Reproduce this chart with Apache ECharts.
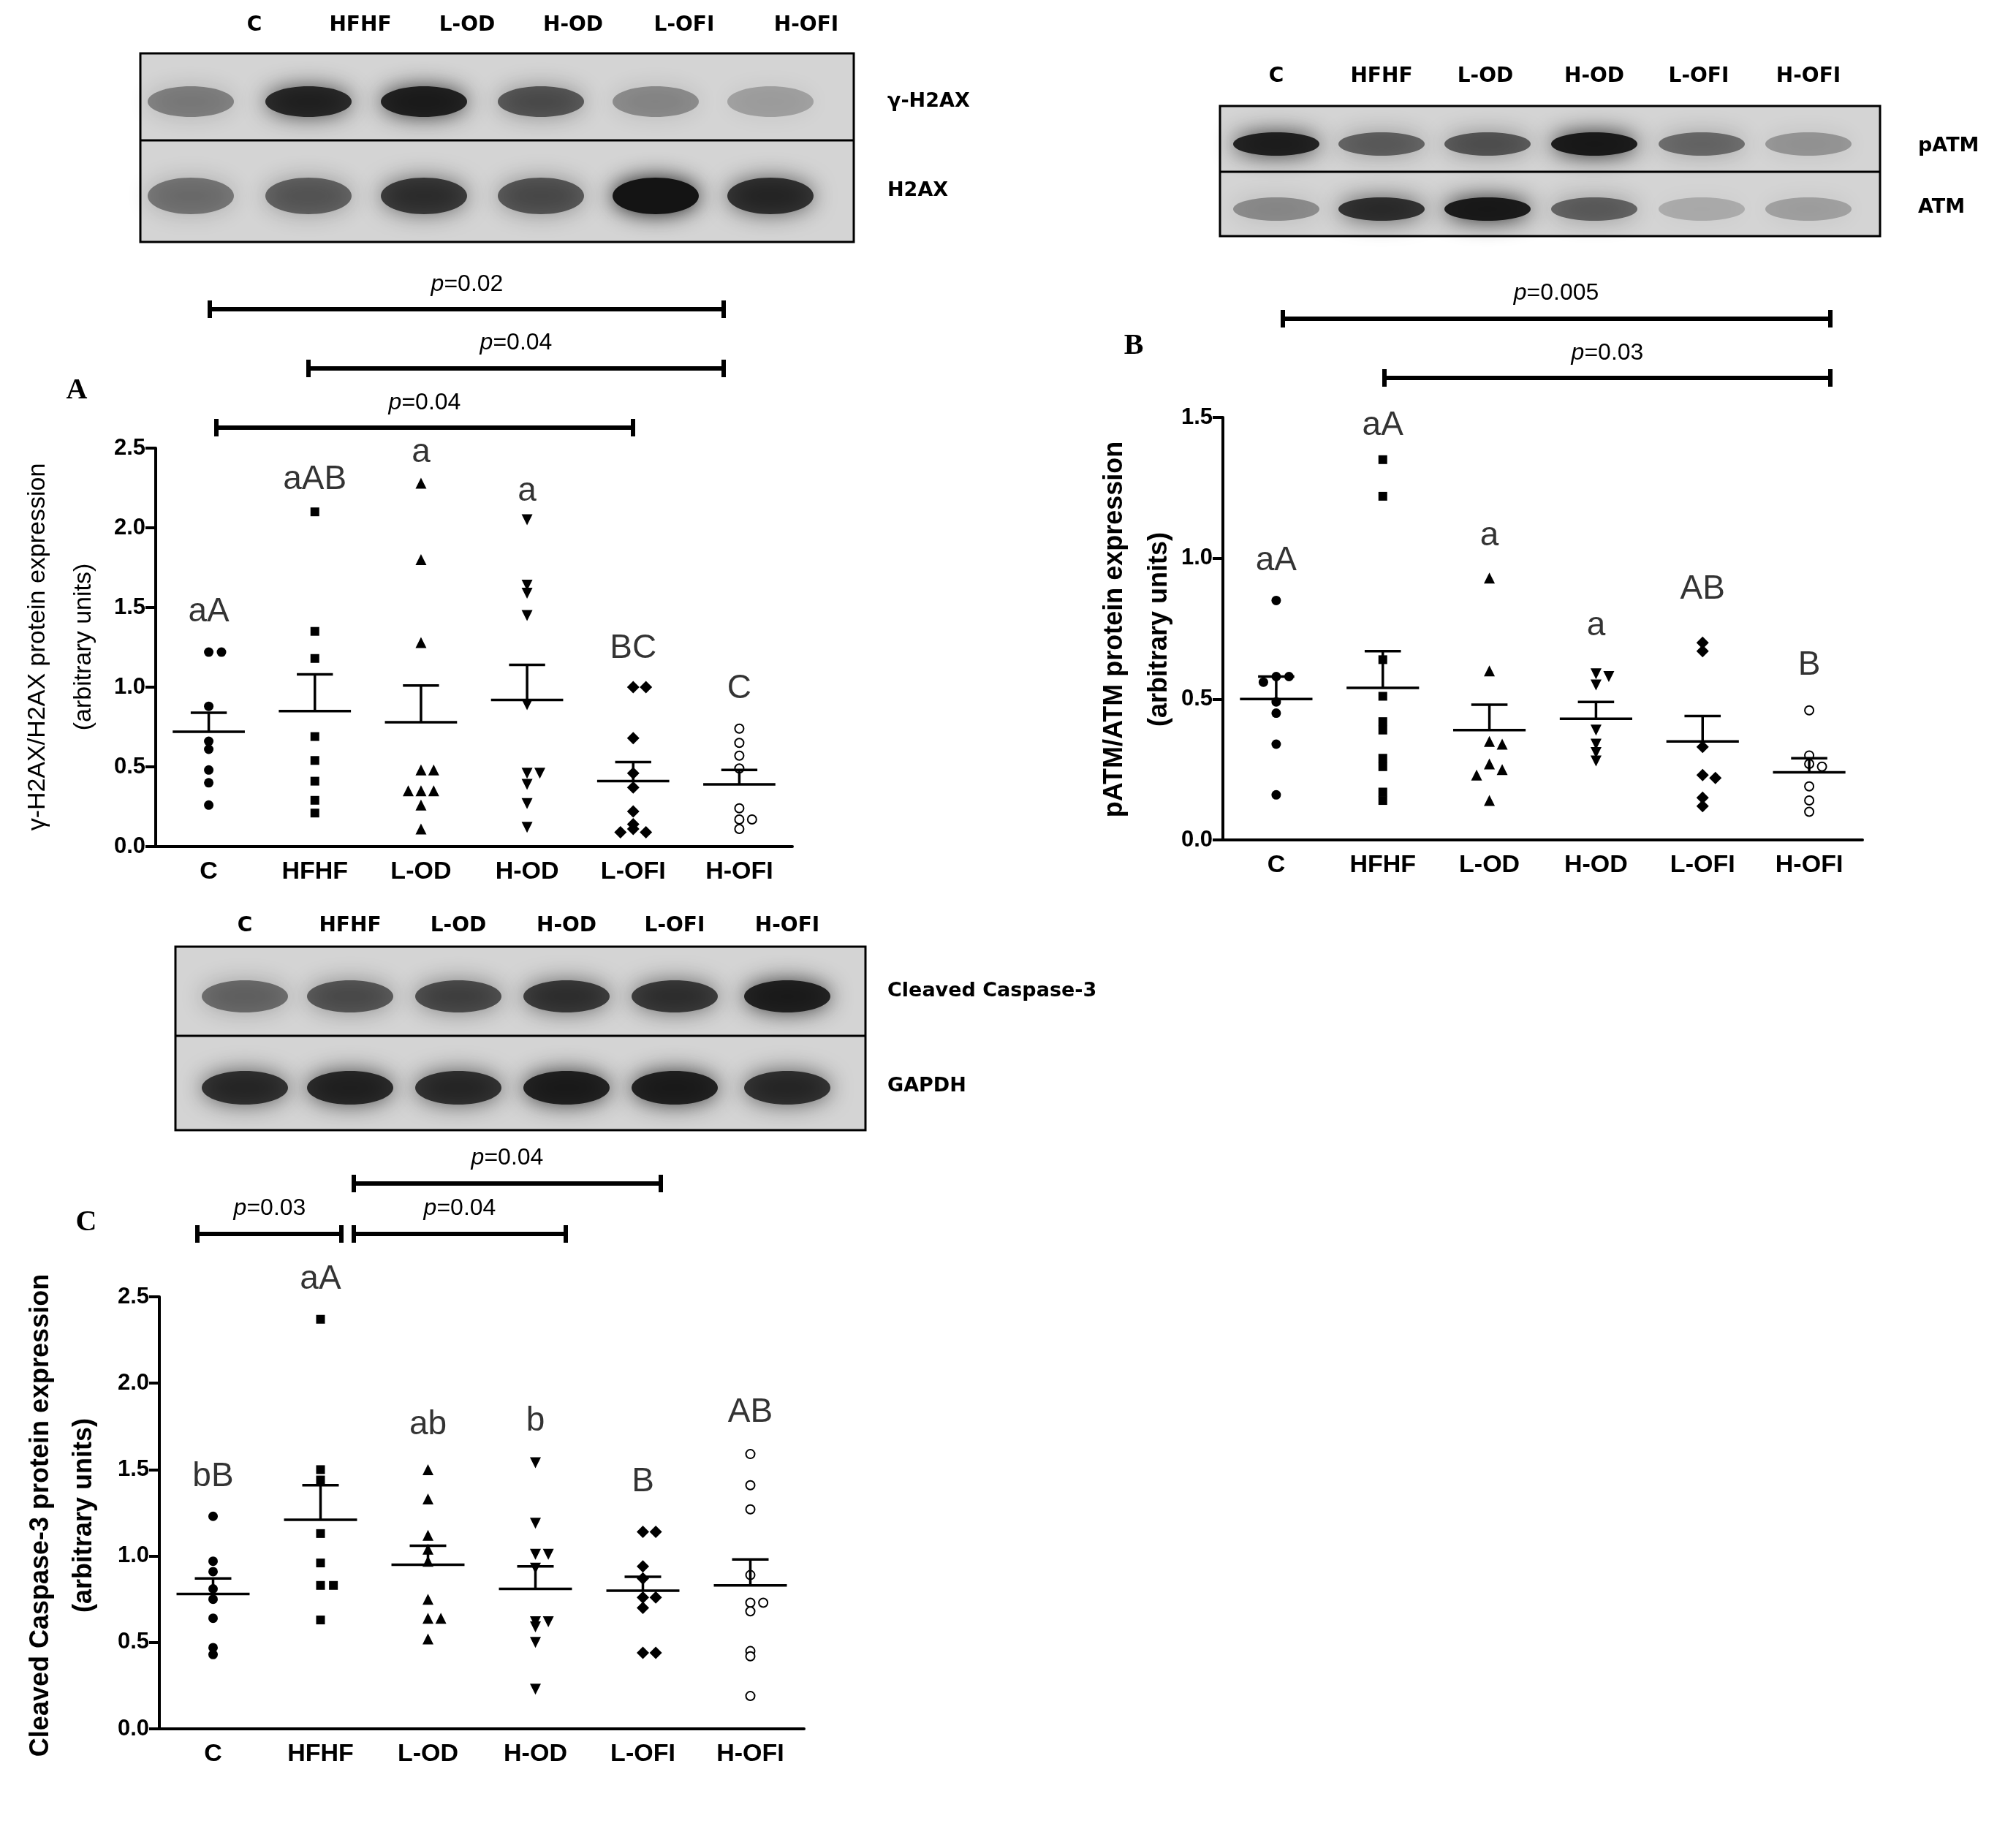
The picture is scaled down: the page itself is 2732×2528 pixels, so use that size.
<!DOCTYPE html>
<html><head><meta charset="utf-8">
<script src="https://cdn.jsdelivr.net/npm/echarts@6/dist/echarts.min.js"></script>
<style>html,body{margin:0;background:#fff}#chart{width:2732px;height:2528px}</style>
</head><body><div id="chart"></div>
<script>
var groups = ['C','HFHF','L-OD','H-OD','L-OFI','H-OFI'];
// panel A: gamma-H2AX/H2AX
var aVals = [
  [1.22,1.22,0.88,0.66,0.61,0.48,0.40,0.26],
  [2.10,1.35,1.18,0.69,0.54,0.41,0.29,0.21],
  [2.28,1.80,1.28,0.48,0.48,0.35,0.35,0.35,0.26,0.11],
  [2.05,1.64,1.59,1.45,0.89,0.46,0.46,0.39,0.27,0.12],
  [1.00,1.00,0.68,0.46,0.37,0.22,0.14,0.11,0.09,0.09],
  [0.74,0.65,0.57,0.49,0.24,0.17,0.17,0.11]];
var aMean = [0.72,0.85,0.78,0.92,0.41,0.39];
var aSem = [0.12,0.23,0.23,0.22,0.12,0.09];
var aLetters = ['aA','aAB','a','a','BC','C'];
var aLetterY = [1.47,2.30,2.47,2.23,1.24,0.99];
// panel B: pATM/ATM
var bVals = [
  [0.85,0.58,0.58,0.56,0.49,0.45,0.34,0.16],
  [1.35,1.22,0.64,0.51,0.42,0.39,0.29,0.26,0.17,0.14],
  [0.93,0.60,0.35,0.34,0.27,0.25,0.23,0.14],
  [0.59,0.58,0.55,0.39,0.34,0.31,0.28],
  [0.70,0.67,0.33,0.23,0.22,0.15,0.12],
  [0.46,0.30,0.27,0.26,0.19,0.14,0.10]];
var bMean = [0.50,0.54,0.39,0.43,0.35,0.24];
var bSem = [0.08,0.13,0.09,0.06,0.09,0.05];
var bLetters = ['aA','aA','a','a','AB','B'];
var bLetterY = [0.99,1.47,1.08,0.76,0.89,0.62];
// panel C: cleaved caspase-3
var cVals = [
  [1.23,0.97,0.91,0.81,0.75,0.64,0.47,0.43],
  [2.37,1.50,1.44,1.13,0.96,0.83,0.83,0.63],
  [1.50,1.33,1.12,1.04,0.97,0.75,0.64,0.64,0.52],
  [1.54,1.19,1.01,1.01,0.93,0.62,0.62,0.59,0.50,0.23],
  [1.14,1.14,0.94,0.87,0.76,0.76,0.70,0.44,0.44],
  [1.59,1.41,1.27,0.89,0.73,0.73,0.68,0.45,0.42,0.19]];
var cMean = [0.78,1.21,0.95,0.81,0.80,0.83];
var cSem = [0.09,0.20,0.11,0.13,0.08,0.15];
var cLetters = ['bB','aA','ab','b','B','AB'];
var cLetterY = [1.46,2.60,1.76,1.78,1.43,1.83];

var K = 2732/1568;
function s(v){ return Math.round(v*K); }
var FONT = 'Liberation Sans';
var symbols = [
  {symbol:'circle', rot:0, fill:'#000', size:13},
  {symbol:'rect', rot:0, fill:'#000', size:12},
  {symbol:'triangle', rot:0, fill:'#000', size:15},
  {symbol:'triangle', rot:180, fill:'#000', size:15},
  {symbol:'diamond', rot:0, fill:'#000', size:17},
  {symbol:'circle', rot:0, fill:'#fff', size:12}];

// spread coincident points sideways like a dot plot
function jitter(vals, step){
  var out = [], prev = null, k = 0;
  vals.forEach(function(v){
    if (prev !== null && Math.abs(v - prev) < step) k++; else k = 0;
    prev = v;
    var off = k === 0 ? 0 : (k % 2 ? 1 : -1) * Math.ceil(k/2) * 0.12;
    out.push(off);
  });
  return out;
}

var grids = [], xAxes = [], yAxes = [], series = [];
function addPanel(idx, box, ymax, vals, mean, sem, letters, letterY, jstep){
  grids.push({left:box[0], top:box[1], width:box[2], height:box[3]});
  var axisStyle = {lineStyle:{color:'#000', width:4}};
  xAxes.push({gridIndex:idx, type:'category', data:groups, boundaryGap:true,
    axisLine:axisStyle, axisTick:{alignWithLabel:true, length:14, lineStyle:{width:4,color:'#000'}},
    axisLabel:{color:'#000', fontFamily:FONT, fontWeight:'bold', fontSize:34, margin:18}});
  xAxes.push({gridIndex:idx, type:'value', min:-0.5, max:5.5, show:false});
  yAxes.push({gridIndex:idx, type:'value', min:0, max:ymax, interval:0.5, splitLine:{show:false}, position:'left',
    axisLine:{show:true, onZero:false, lineStyle:{color:'#000', width:4}}, axisTick:{show:true, length:14, lineStyle:{width:4,color:'#000'}},
    axisLabel:{color:'#000', fontFamily:FONT, fontWeight:'bold', fontSize:31, margin:14,
      formatter:function(v){ return v.toFixed(1); }}});
  var xi = idx*2 + 1;
  vals.forEach(function(g, gi){
    var offs = jitter(g, jstep);
    var sy = symbols[gi];
    series.push({type:'scatter', xAxisIndex:xi, yAxisIndex:idx, symbol:sy.symbol, symbolRotate:sy.rot,
      symbolSize:sy.size,
      itemStyle:{color:sy.fill, borderColor:'#000', borderWidth: sy.fill === '#fff' ? 2 : 0, opacity:1},
      data:g.map(function(v, i){ return [gi + offs[i], v]; }), z:3});
  });
  series.push({type:'custom', xAxisIndex:xi, yAxisIndex:idx, z:4,
    data:mean.map(function(m, i){ return [i, m, m + sem[i]]; }),
    renderItem:function(p, api){
      var c = api.coord([api.value(0), api.value(1)]);
      var t = api.coord([api.value(0), api.value(2)]);
      var half = api.size([1, 0])[0];
      var st = {stroke:'#000', lineWidth:3.5};
      return {type:'group', children:[
        {type:'line', shape:{x1:c[0]-half*0.34, y1:c[1], x2:c[0]+half*0.34, y2:c[1]}, style:st},
        {type:'line', shape:{x1:c[0], y1:c[1], x2:c[0], y2:t[1]}, style:st},
        {type:'line', shape:{x1:c[0]-half*0.17, y1:t[1], x2:c[0]+half*0.17, y2:t[1]}, style:st}]};
    }});
  series.push({type:'scatter', xAxisIndex:xi, yAxisIndex:idx, symbolSize:1, clip:false, itemStyle:{color:'rgba(0,0,0,0)'},
    data:letterY.map(function(v, i){ return {value:[i, v], label:{show:true, formatter:letters[i]}}; }),
    label:{show:true, position:'inside', color:'#000', fontFamily:FONT, fontSize:46}, z:5});
}

addPanel(0, [s(122), s(352), s(500), s(313)], 2.5, aVals, aMean, aSem, aLetters, aLetterY, 0.03);
addPanel(1, [s(960), s(328), s(502), s(332)], 1.5, bVals, bMean, bSem, bLetters, bLetterY, 0.025);
addPanel(2, [s(125), s(1018), s(506), s(339)], 2.5, cVals, cMean, cSem, cLetters, cLetterY, 0.03);

var graphics = [];
function txt(x, y, t, opt){
  opt = opt || {};
  graphics.push({type:'text', x:s(x), y:s(y), rotation:opt.rot || 0,
    style:{text:t, fill:'#000', font:(opt.weight||'normal') + ' ' + (opt.size||30) + 'px ' + (opt.family||FONT),
      textAlign:opt.align||'center', textVerticalAlign:'middle'}});
}
function bracket(x1, x2, y, label){
  graphics.push({type:'line', shape:{x1:s(x1), y1:s(y), x2:s(x2), y2:s(y)}, style:{stroke:'#000', lineWidth:6}});
  graphics.push({type:'line', shape:{x1:s(x1), y1:s(y)-12, x2:s(x1), y2:s(y)+12}, style:{stroke:'#000', lineWidth:6}});
  graphics.push({type:'line', shape:{x1:s(x2), y1:s(y)-12, x2:s(x2), y2:s(y)+12}, style:{stroke:'#000', lineWidth:6}});
  graphics.push({type:'text', x:s((x1+x2)/2), y:s(y-20), style:{text:'{i|p}=' + label, fill:'#000',
    font:'32px ' + FONT, textAlign:'center', textVerticalAlign:'middle',
    rich:{i:{fontStyle:'italic', fontSize:32, fontFamily:FONT}}}});
}
function blot(x, y, w, h, mid, lanes, top, bottom){
  graphics.push({type:'rect', shape:{x:s(x), y:s(y), width:s(w), height:s(h)}, style:{fill:'#d4d4d4', stroke:'#000', lineWidth:3}});
  var rows = [[y, mid, top], [mid, y+h, bottom]];
  rows.forEach(function(r){
    lanes.forEach(function(lx, i){
      var d = r[2][i];
      graphics.push({type:'ellipse', shape:{cx:s(lx), cy:s((r[0]+r[1])/2 + 4), rx:s(34), ry:s((r[1]-r[0])*0.18)},
        style:{fill:'rgba(20,20,20,' + d + ')', shadowBlur:30, shadowColor:'rgba(20,20,20,' + d + ')'}});
    });
  });
  graphics.push({type:'line', shape:{x1:s(x), y1:s(mid), x2:s(x+w), y2:s(mid)}, style:{stroke:'#000', lineWidth:3}});
}

// blot A
blot(110, 42, 560, 148, 110, [150,242,333,425,515,605], [0.4,0.85,0.9,0.6,0.35,0.25], [0.45,0.55,0.75,0.6,1,0.8]);
[[200,'C'],[283,'HFHF'],[367,'L-OD'],[450,'H-OD'],[537,'L-OFI'],[633,'H-OFI']].forEach(function(l){ txt(l[0], 20, l[1], {weight:'bold', size:28, family:'DejaVu Sans'}); });
txt(697, 80, 'γ-H2AX', {align:'left', weight:'bold', size:27, family:'DejaVu Sans'});
txt(697, 150, 'H2AX', {align:'left', weight:'bold', size:27, family:'DejaVu Sans'});
bracket(165, 568, 243, '0.02');
bracket(242, 568, 289, '0.04');
bracket(170, 497, 336, '0.04');
txt(60, 307, 'A', {weight:'bold', size:40, family:'Liberation Serif'});
txt(30, 508, 'γ-H2AX/H2AX protein expression', {rot:Math.PI/2, size:34});
txt(66, 508, '(arbitrary units)', {rot:Math.PI/2, size:34});

// blot B
blot(958, 83, 518, 102, 135, [1002,1085,1168,1252,1336,1420], [0.9,0.55,0.6,0.95,0.5,0.3], [0.35,0.8,0.95,0.55,0.2,0.25]);
[[1002,'C'],[1085,'HFHF'],[1166,'L-OD'],[1252,'H-OD'],[1334,'L-OFI'],[1420,'H-OFI']].forEach(function(l){ txt(l[0], 60, l[1], {weight:'bold', size:28, family:'DejaVu Sans'}); });
txt(1506, 115, 'pATM', {align:'left', weight:'bold', size:27, family:'DejaVu Sans'});
txt(1506, 163, 'ATM', {align:'left', weight:'bold', size:27, family:'DejaVu Sans'});
bracket(1007, 1437, 250, '0.005');
bracket(1087, 1437, 297, '0.03');
txt(890, 272, 'B', {weight:'bold', size:40, family:'Liberation Serif'});
txt(875, 494, 'pATM/ATM protein expression', {rot:Math.PI/2, size:36, weight:'bold'});
txt(910, 494, '(arbitrary units)', {rot:Math.PI/2, size:36, weight:'bold'});

// blot C
blot(138, 743, 542, 144, 813, [192,275,360,445,530,618], [0.5,0.6,0.65,0.75,0.75,0.9], [0.8,0.85,0.8,0.9,0.9,0.8]);
[[192,'C'],[275,'HFHF'],[360,'L-OD'],[445,'H-OD'],[530,'L-OFI'],[618,'H-OFI']].forEach(function(l){ txt(l[0], 727, l[1], {weight:'bold', size:28, family:'DejaVu Sans'}); });
txt(697, 778, 'Cleaved Caspase-3', {align:'left', weight:'bold', size:27, family:'DejaVu Sans'});
txt(697, 853, 'GAPDH', {align:'left', weight:'bold', size:27, family:'DejaVu Sans'});
bracket(278, 519, 929, '0.04');
bracket(155, 268, 969, '0.03');
bracket(278, 444, 969, '0.04');
txt(68, 960, 'C', {weight:'bold', size:40, family:'Liberation Serif'});
txt(32, 1190, 'Cleaved Caspase-3 protein expression', {rot:Math.PI/2, size:36, weight:'bold'});
txt(66, 1190, '(arbitrary units)', {rot:Math.PI/2, size:36, weight:'bold'});

var myChart = echarts.init(document.getElementById('chart'));
myChart.setOption({animation:false, backgroundColor:'#fff', grid:grids, xAxis:xAxes, yAxis:yAxes, series:series, graphic:graphics});
</script></body></html>
